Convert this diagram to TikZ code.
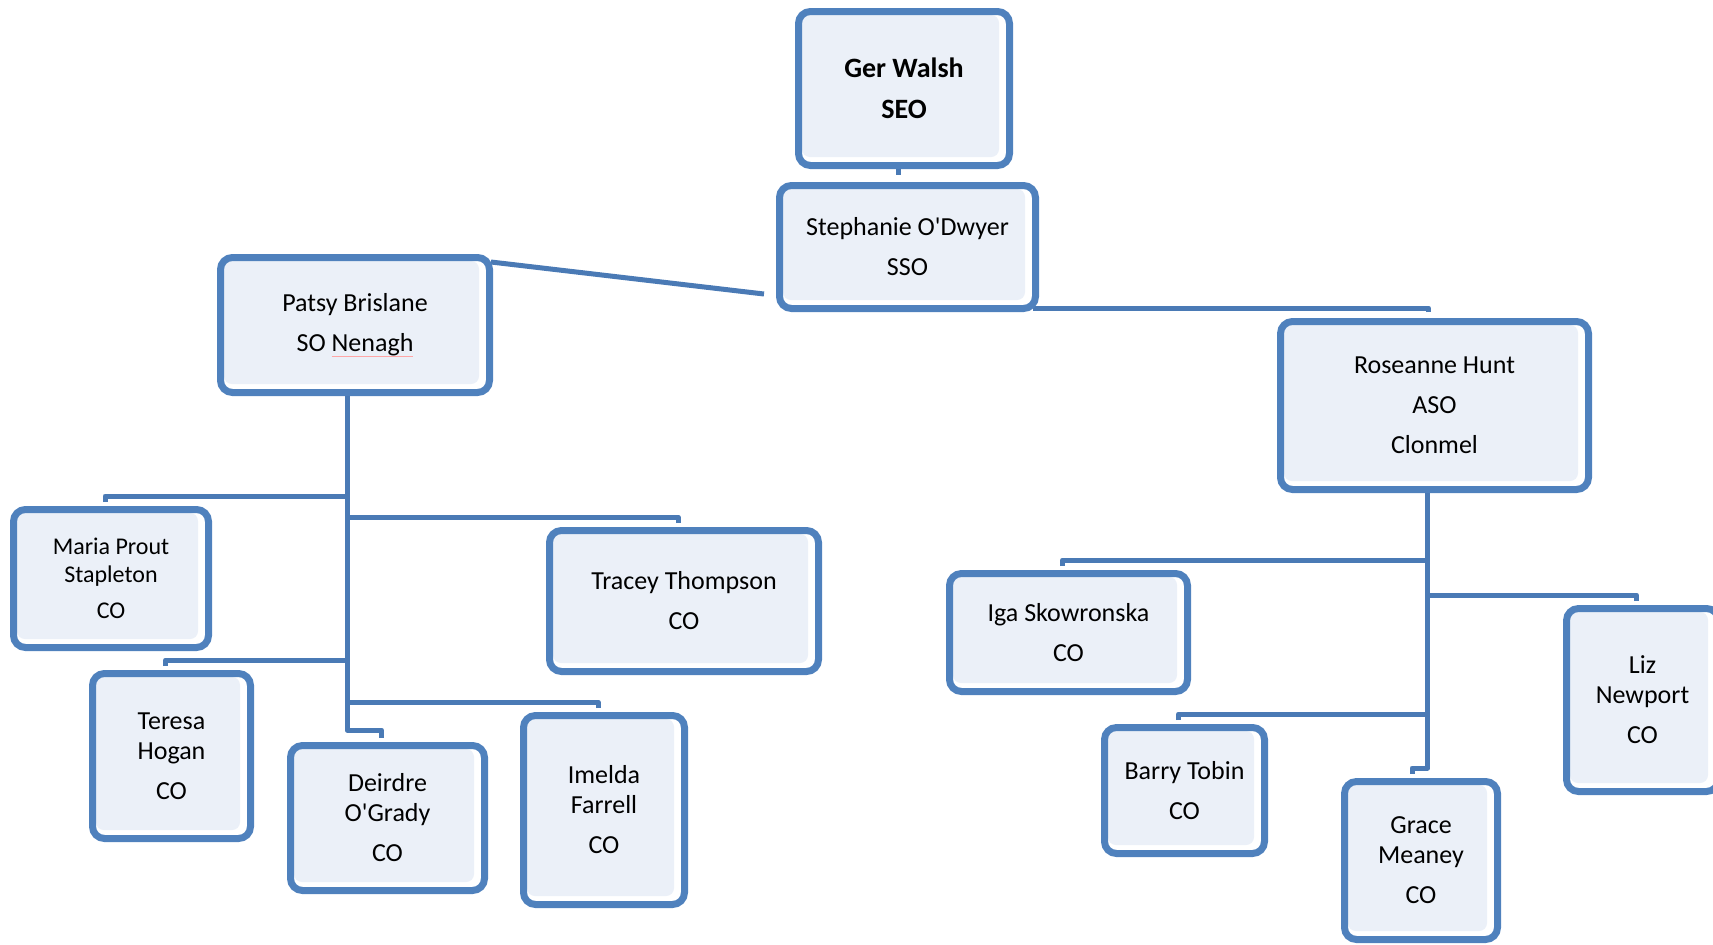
\documentclass[tikz,border=0pt]{standalone}
\usepackage{fontspec}
\setmainfont{Carlito}[Ligatures=TeXOff]
\usetikzlibrary{calc,backgrounds}

\definecolor{boxline}{HTML}{4F81BD}
\definecolor{connline}{HTML}{4A7AB5}
\definecolor{boxfill}{HTML}{EBF0F8}

% faint spell-check underline
\newcommand\spellmark[1]{\setbox0\hbox{#1}\rlap{\color{red!35}\rule[-2.8pt]{\wd0}{0.5pt}}\box0}

\tikzset{
  orgbox/.style={rectangle, rounded corners=6pt, draw=boxline, line width=3.5pt,
    fill=white, inner sep=0pt, align=center,
    font=\fontsize{13}{15}\selectfont,
    path picture={\fill[boxfill, rounded corners=4pt]
      ([shift={(1.75pt,-1.75pt)}]path picture bounding box.north west) rectangle
      ([shift={(-5.25pt,4.25pt)}]path picture bounding box.south east);}},
  smalltext/.style={font=\fontsize{12}{14}\selectfont},
  boldtext/.style={font=\fontsize{14}{15.5}\selectfont\bfseries},
  conn/.style={draw=connline, line width=2.5pt, line join=round}
}

% box from outer pixel corners (x1,y1)-(x2,y2)
\newcommand\orgnode[7][]{%
  \node[orgbox, #1, minimum width={(#5-#3)*0.5pt-3.5pt},
        minimum height={(#6-#4)*0.5pt-3.5pt}]
    (#2) at ({(#3+#5)/2},{(#4+#6)/2}) {#7};}

% elbow from a trunk line to the top of a child box
\newcommand\branch[2]{%
  \draw[conn] ([xshift=-3pt,yshift=2pt]#2.north) -- ++(0,-6) coordinate (#2-b) -- (#1 |- #2-b);}

\begin{document}
\begin{tikzpicture}[x=0.5pt,y=-0.5pt]
\useasboundingbox (0,0) rectangle (1713,944);

\orgnode[boldtext]{ger}{795}{8}{1013}{169}{Ger Walsh\\[5pt]SEO}
\orgnode{steph}{776}{182}{1039}{312}{Stephanie O'Dwyer\\[5pt]SSO}
\orgnode{patsy}{217}{254}{493}{396}{Patsy Brislane\\[5pt]SO \spellmark{Nenagh}}
\orgnode{rose}{1277}{318}{1592}{493}{Roseanne Hunt\\[5pt]ASO\\[5pt]Clonmel}

\orgnode[smalltext]{maria}{10}{506}{212}{651}{Maria Prout\\Stapleton\\[4pt]CO}
\orgnode{tracey}{546}{527}{822}{675}{Tracey Thompson\\[5pt]CO}
\orgnode{teresa}{89}{670}{254}{842}{Teresa\\Hogan\\[5pt]CO}
\orgnode{deirdre}{287}{742}{488}{894}{Deirdre\\O'Grady\\[5pt]CO}
\orgnode{imelda}{520}{712}{688}{908}{Imelda\\Farrell\\[5pt]CO}

\orgnode{iga}{946}{570}{1191}{695}{Iga Skowronska\\[5pt]CO}
\orgnode{barry}{1101}{724}{1268}{857}{Barry Tobin\\[5pt]CO}
\orgnode{grace}{1341}{778}{1501}{943}{Grace\\Meaney\\[5pt]CO}
\orgnode{liz}{1563}{605}{1722}{795}{Liz\\Newport\\[5pt]CO}

\begin{scope}[on background layer]
  % upper levels
  \coordinate (gstub) at ([xshift=-3pt]ger.south);
  \draw[conn] (gstub) -- ([yshift=3.5pt]gstub |- steph.north);
  \draw[conn] ([shift={(-1pt,-4pt)}]patsy.north east) -- ([shift={(-6pt,9pt)}]steph.south west);
  \draw[conn] ([xshift=-3pt,yshift=3pt]rose.north) |- ([shift={(-3pt,2pt)}]steph.south east);

  % Nenagh team
  \coordinate (ptr) at ([xshift=-4pt]patsy.south);
  \draw[conn] (ptr) |- ([xshift=-3pt,yshift=6pt]deirdre.north) -- ([xshift=-3pt,yshift=2pt]deirdre.north);
  \branch{ptr}{maria}
  \branch{ptr}{tracey}
  \branch{ptr}{teresa}
  \branch{ptr}{imelda}

  % Clonmel team
  \coordinate (rtr) at ([xshift=-3.5pt]rose.south);
  \draw[conn] (rtr) |- ([xshift=-4.5pt,yshift=5pt]grace.north) -- ([xshift=-4.5pt,yshift=2pt]grace.north);
  \branch{rtr}{iga}
  \branch{rtr}{liz}
  \branch{rtr}{barry}
\end{scope}
\end{tikzpicture}
\end{document}
